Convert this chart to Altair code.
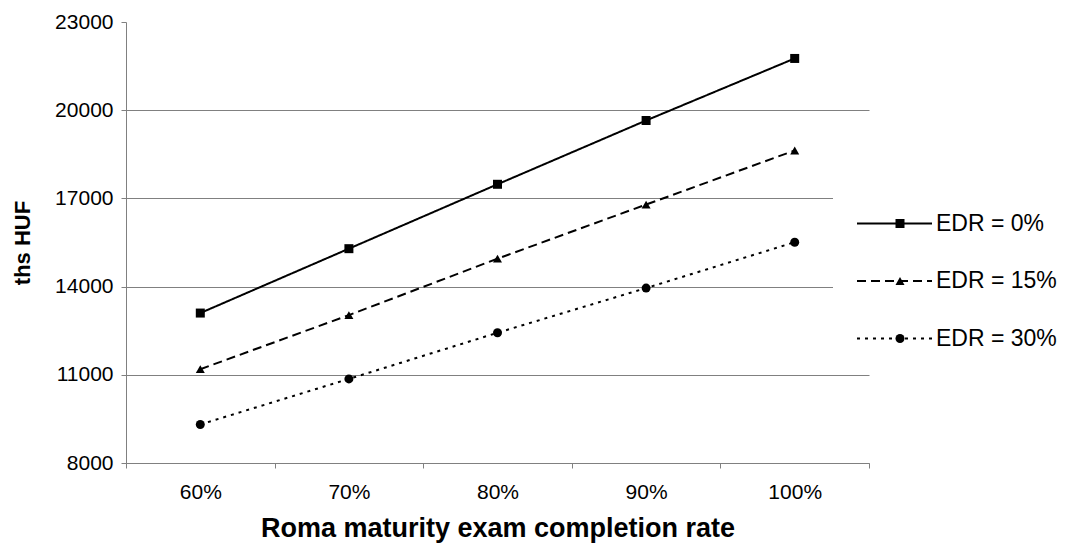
import altair as alt
import pandas as pd

rates = ["60%", "70%", "80%", "90%", "100%"]
series_names = ["EDR = 0%", "EDR = 15%", "EDR = 30%"]
edr0 = [13100, 15290, 17480, 19650, 21760]
edr15 = [11190, 13030, 14950, 16790, 18630]
edr30 = [9310, 10860, 12430, 13950, 15510]
y_ticks = [8000, 11000, 14000, 17000, 20000, 23000]

rows = []
for name, vals in zip(series_names, [edr0, edr15, edr30]):
    for r, v in zip(rates, vals):
        # "marker" is the same name with a trailing space, so the marker legend
        # stays separate from the line legend and can be laid over it
        rows.append({"rate": r, "value": v, "series": name, "marker": name + " "})
df = pd.DataFrame(rows)
marker_names = [n + " " for n in series_names]

FONT = "Arial, Liberation Sans, sans-serif"
dash_range = [[1, 0], [9, 5], [3, 5]]

x_enc = alt.X(
    "rate:O", sort=rates,
    scale=alt.Scale(paddingInner=0, paddingOuter=0),
    axis=alt.Axis(title="Roma maturity exam completion rate", labelAngle=0,
                  tickBand="extent", tickSize=5, labelPadding=13,
                  titlePadding=13, grid=False, titleFontSize=27),
)
y_enc = alt.Y(
    "value:Q",
    scale=alt.Scale(domain=[8000, 23000], nice=False, zero=False),
    axis=alt.Axis(title="ths HUF", values=y_ticks, format="d", tickSize=5,
                  labelPadding=8, titlePadding=20, grid=True,
                  gridOpacity={"condition": {"test": "datum.value === 23000", "value": 0}, "value": 1}),
)

# legend of the lines (drawn first, with a white box)
line_legend = alt.Legend(
    title=None, orient="none", legendX=707, legendY=172, zindex=1,
    fillColor="white", padding=18, symbolOffset=32, labelOffset=30,
    rowPadding=33.5, symbolSize=400, symbolType="M-3.75,0H3.75",
    symbolStrokeWidth=2, symbolStrokeColor="black", symbolOpacity=1,
    labelFont=FONT, labelFontSize=23, labelColor="black", labelLimit=300,
)
# legend of the markers, laid over the line legend at the same place
marker_legend = alt.Legend(
    title=None, orient="none", legendX=707, legendY=172, zindex=2,
    padding=18, symbolOffset=37.5, labelOffset=30,
    rowPadding=33.5, symbolSize=81, symbolOpacity=1,
    symbolFillColor="black", symbolStrokeWidth=0,
    labelFont=FONT, labelFontSize=23, labelColor="black", labelOpacity=0,
    labelExpr="' '", labelLimit=300,
)

lines = alt.Chart(df).mark_line(color="black", strokeWidth=2).encode(
    x=x_enc, y=y_enc,
    strokeDash=alt.StrokeDash("series:N", sort=series_names,
                              scale=alt.Scale(domain=series_names, range=dash_range),
                              legend=line_legend),
)

points = alt.Chart(df).mark_point(filled=True, color="black", size=81, opacity=1).encode(
    x=x_enc, y=y_enc,
    shape=alt.Shape("marker:N", sort=marker_names,
                    scale=alt.Scale(domain=marker_names,
                                    range=["square", "triangle-up", "circle"]),
                    legend=marker_legend),
)

chart = alt.layer(lines, points).properties(
    width=743, height=441,
    autosize=alt.AutoSizeParams(type="none"),
    padding={"left": 118, "top": 14, "right": 188, "bottom": 80},
    background="white",
).configure_view(stroke=None).configure_axis(
    labelFont=FONT, labelFontSize=21, labelColor="black",
    titleFont=FONT, titleFontSize=22, titleFontWeight="bold", titleColor="black",
    domainColor="#808080", tickColor="#808080", gridColor="#808080",
    domainWidth=1, gridWidth=1,
)

chart.save("out.html", embed_options={"renderer": "svg", "actions": False})
